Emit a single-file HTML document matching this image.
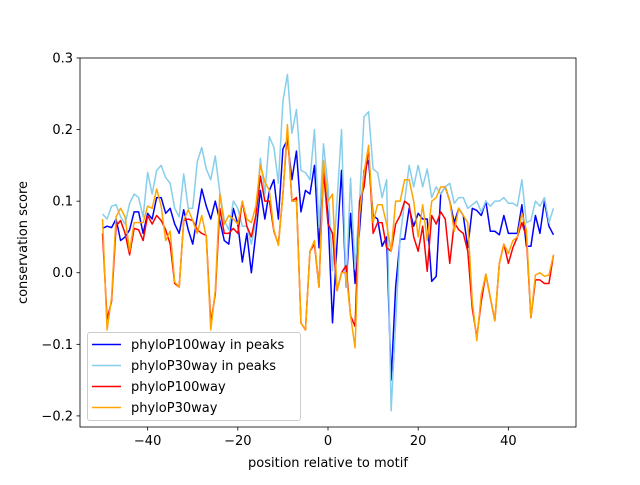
<!DOCTYPE html>
<html><head><meta charset="utf-8"><style>
body{margin:0;background:#fff;font-family:"Liberation Sans","DejaVu Sans",sans-serif;}
svg text{font-family:"DejaVu Sans","Liberation Sans",sans-serif;font-size:13px;fill:#000;}
</style></head><body>
<svg id="chart" width="640" height="480" xmlns="http://www.w3.org/2000/svg">
<rect width="640" height="480" fill="#fff"/>
<g id="plot"></g>
</svg>
<script>
const positions = [];
for (let i = -50; i <= 50; i++) positions.push(i);
const p100Peaks = [0.062,0.065,0.063,0.075,0.045,0.05,0.06,0.085,0.085,0.055,
0.083,0.075,0.105,0.105,0.083,0.09,0.068,0.055,0.088,0.06,
0.04,0.078,0.117,0.093,0.075,0.1,0.073,0.045,0.04,0.09,
0.068,0.015,0.055,0.0,0.055,0.115,0.075,0.115,0.13,0.075,
0.173,0.186,0.13,0.17,0.085,0.115,0.11,0.15,0.035,0.143,
0.08,-0.07,0.04,0.143,-0.02,0.083,-0.015,0.06,0.143,0.157,
0.08,0.075,0.037,0.05,-0.15,-0.02,0.047,0.047,0.09,0.065,
0.083,0.075,0.075,-0.012,-0.005,0.11,0.12,0.1,0.07,0.09,
0.08,0.035,0.09,0.087,0.08,0.1,0.058,0.058,0.053,0.08,
0.055,0.055,0.055,0.095,0.037,0.037,0.08,0.055,0.1,0.065,0.053];
const p30Peaks = [0.082,0.075,0.093,0.095,0.078,0.068,0.097,0.11,0.105,0.078,
0.14,0.11,0.143,0.15,0.133,0.125,0.09,0.078,0.138,0.09,
0.09,0.155,0.175,0.145,0.13,0.163,0.113,0.073,0.06,0.1,
0.09,0.065,0.065,0.04,0.073,0.16,0.11,0.19,0.175,0.125,
0.24,0.277,0.195,0.228,0.143,0.14,0.13,0.2,0.063,0.18,
0.12,0.003,0.1,0.2,-0.02,0.132,0.005,0.1,0.218,0.225,
0.145,0.14,0.105,0.13,-0.193,-0.07,0.05,0.1,0.15,0.12,
0.15,0.12,0.145,0.105,0.12,0.11,0.12,0.125,0.097,0.105,
0.105,0.09,0.095,0.1,0.085,0.1,0.093,0.1,0.1,0.105,
0.097,0.097,0.093,0.13,0.07,0.073,0.1,0.093,0.105,0.07,0.09];
const p100 = [0.055,-0.065,-0.04,0.065,0.073,0.055,0.025,0.062,0.06,0.045,
0.08,0.068,0.08,0.073,0.06,0.04,-0.015,-0.02,0.073,0.075,
0.073,0.06,0.055,0.052,-0.07,-0.03,0.09,0.055,0.055,0.062,
0.055,0.1,0.065,0.05,0.08,0.135,0.1,0.1,0.058,0.04,
0.11,0.2,0.1,0.105,-0.07,-0.08,0.03,0.04,-0.02,0.143,
0.068,0.055,-0.025,0.0,0.01,-0.06,-0.075,0.1,0.12,0.175,
0.055,0.07,0.07,0.035,0.03,0.068,0.08,0.1,0.095,0.05,
0.03,0.065,0.002,0.08,0.068,0.085,0.075,0.013,0.07,0.06,
0.055,0.03,-0.05,-0.09,-0.04,-0.002,-0.035,-0.067,0.013,0.04,
0.013,0.035,0.05,0.07,0.05,-0.063,-0.01,-0.01,-0.015,-0.015,0.025];
const p30 = [0.075,-0.08,-0.035,0.078,0.09,0.078,0.03,0.07,0.07,0.07,
0.093,0.09,0.117,0.093,0.045,0.058,-0.013,-0.02,0.073,0.088,
0.073,0.055,0.08,0.05,-0.08,-0.025,0.11,0.068,0.08,0.075,
0.068,0.1,0.075,0.07,0.093,0.15,0.127,0.115,0.06,0.038,
0.11,0.207,0.1,0.1,-0.07,-0.08,0.03,0.045,-0.02,0.157,
0.1,0.11,-0.025,0.0,0.0,-0.06,-0.105,0.08,0.14,0.178,
0.07,0.095,0.095,0.068,0.03,0.1,0.1,0.13,0.13,0.1,
0.05,0.095,0.045,0.1,0.105,0.12,0.12,0.1,0.058,0.09,
0.08,0.07,-0.04,-0.095,-0.03,-0.002,-0.035,-0.067,0.013,0.04,
0.027,0.045,0.05,0.083,0.06,-0.063,-0.003,0.0,-0.005,-0.003,0.025];
const xTicks = [-40,-20,0,20,40];
const yTicks = [-0.2,-0.1,0.0,0.1,0.2,0.3];
const yTickLabels = ["−0.2","−0.1","0.0","0.1","0.2","0.3"];
const xTickLabels = ["−40","−20","0","20","40"];
const seriesNames = ["phyloP100way in peaks","phyloP30way in peaks","phyloP100way","phyloP30way"];

const L=80,R=576,T=58,B=427;
const xMin=-55,xMax=55,yMin=-0.2155,yMax=0.3;
const sx=v=>L+(v-xMin)/(xMax-xMin)*(R-L);
const sy=v=>B-(v-yMin)/(yMax-yMin)*(B-T);
const NS="http://www.w3.org/2000/svg";
const g=document.getElementById('plot');
function mk(tag,attrs,parent){const e=document.createElementNS(NS,tag);for(const k in attrs)e.setAttribute(k,attrs[k]);(parent||g).appendChild(e);return e;}

const colors=["#0000ff","#87ceeb","#ff0000","#ffa500"];
const series=[p100Peaks,p30Peaks,p100,p30];
const keys=["series-phylop100way-in-peaks","series-phylop30way-in-peaks","series-phylop100way","series-phylop30way"];
series.forEach((s,si)=>{
  const d=s.map((v,i)=>(i?'L':'M')+sx(positions[i]).toFixed(2)+' '+sy(v).toFixed(2)).join(' ');
  const p=mk('path',{d:d,fill:'none',stroke:colors[si],'stroke-width':1.5,'stroke-linejoin':'round'});
  
  
});
const frame=mk('rect',{x:L,y:T,width:R-L,height:B-T,fill:'none',stroke:'#000','stroke-width':0.8});


xTicks.forEach((t,i)=>{
  const x=sx(t);
  const tk=mk('line',{x1:x,x2:x,y1:B,y2:B+3.5,stroke:'#000','stroke-width':0.8});
  
  
  const tx=mk('text',{x:x,y:B+18,'text-anchor':'middle'});
  tx.textContent=xTickLabels[i];
  
  
});
yTicks.forEach((t,i)=>{
  const y=sy(t);
  const tk=mk('line',{x1:L-3.5,x2:L,y1:y,y2:y,stroke:'#000','stroke-width':0.8});
  
  
  const tx=mk('text',{x:L-7,y:y+4.5,'text-anchor':'end'});
  tx.textContent=yTickLabels[i];
  
  
});
const xl=mk('text',{x:(L+R)/2,y:467,'text-anchor':'middle'});
xl.textContent='position relative to motif';


const yl=mk('text',{x:0,y:0,'text-anchor':'middle',transform:'translate(27,'+((T+B)/2)+') rotate(-90)'});
yl.textContent='conservation score';



const lg=mk('g',{});


mk('rect',{x:87.5,y:332.5,width:213,height:88,rx:2.5,fill:'#fff','fill-opacity':0.8,stroke:'#ccc','stroke-width':1},lg);
seriesNames.forEach((n,i)=>{
  const y=344.5+i*21;
  const ln=mk('line',{x1:92,x2:121,y1:y,y2:y,stroke:colors[i],'stroke-width':1.5},lg);
  
  
  const tx=mk('text',{x:131,y:y+4.5},lg);
  tx.textContent=n;
  
  
});
</script>
</body></html>
